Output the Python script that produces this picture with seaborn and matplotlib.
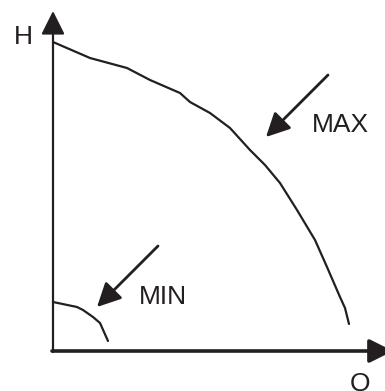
import matplotlib
matplotlib.use("Agg")
import matplotlib.pyplot as plt
import seaborn as sns
import pandas as pd

# ---- data (Q, H), arbitrary units ----
max_q = [0, 37, 74, 97, 127, 137, 157, 177, 197, 212, 227, 244, 250, 262, 274, 287, 292, 296]
max_h = [309, 293, 283, 271, 258, 249, 238, 223, 201, 186, 168, 141, 131, 111, 84, 54, 43, 27]
min_q = [0, 24, 30, 40, 47, 55]
min_h = [49, 44, 41, 34, 28, 10]

INK = "#231f20"

sns.set_theme(style="white")
plt.rcParams["font.family"] = ["Liberation Sans", "DejaVu Sans"]

fig = plt.figure(figsize=(3.85, 3.91), dpi=100)
ax = fig.add_axes([0, 0, 1, 1])
ax.set_xlim(-53, 332)
ax.set_ylim(-40, 351)
ax.set_axis_off()

# curves
sns.lineplot(data=pd.DataFrame({"Q": max_q, "H": max_h}), x="Q", y="H",
             sort=False, estimator=None, color=INK, lw=1.6, ax=ax)
sns.lineplot(data=pd.DataFrame({"Q": min_q, "H": min_h}), x="Q", y="H",
             sort=False, estimator=None, color=INK, lw=1.6, ax=ax)

head = "-|>,head_length=0.9,head_width=0.45"

# axes with arrows
ax.annotate("", xy=(0, 340), xytext=(0, -1), annotation_clip=False,
            arrowprops=dict(arrowstyle=head, color=INK, lw=1.6,
                            shrinkA=0, shrinkB=0, mutation_scale=16))
ax.annotate("", xy=(340, 0), xytext=(-1, 0), annotation_clip=False,
            arrowprops=dict(arrowstyle=head, color=INK, lw=2.6,
                            shrinkA=0, shrinkB=0, mutation_scale=16))

# pointer arrows
for tail, tip in [((275, 276), (213, 214)), ((105, 105), (44, 44))]:
    ax.annotate("", xy=tip, xytext=tail,
                arrowprops=dict(arrowstyle=head, color=INK, lw=2.0,
                                shrinkA=0, shrinkB=0, mutation_scale=16))

# labels
fs = 19
ax.text(-29.5, 314, "H", fontsize=fs, color=INK, ha="center", va="center")
ax.text(259, 226, "MAX", fontsize=fs, color=INK, ha="left", va="center")
ax.text(86, 53.5, "MIN", fontsize=fs, color=INK, ha="left", va="center")
ax.text(307, -33.5, "Q", fontsize=fs, color=INK, ha="center", va="center")

fig.savefig("out.png", dpi=100)
